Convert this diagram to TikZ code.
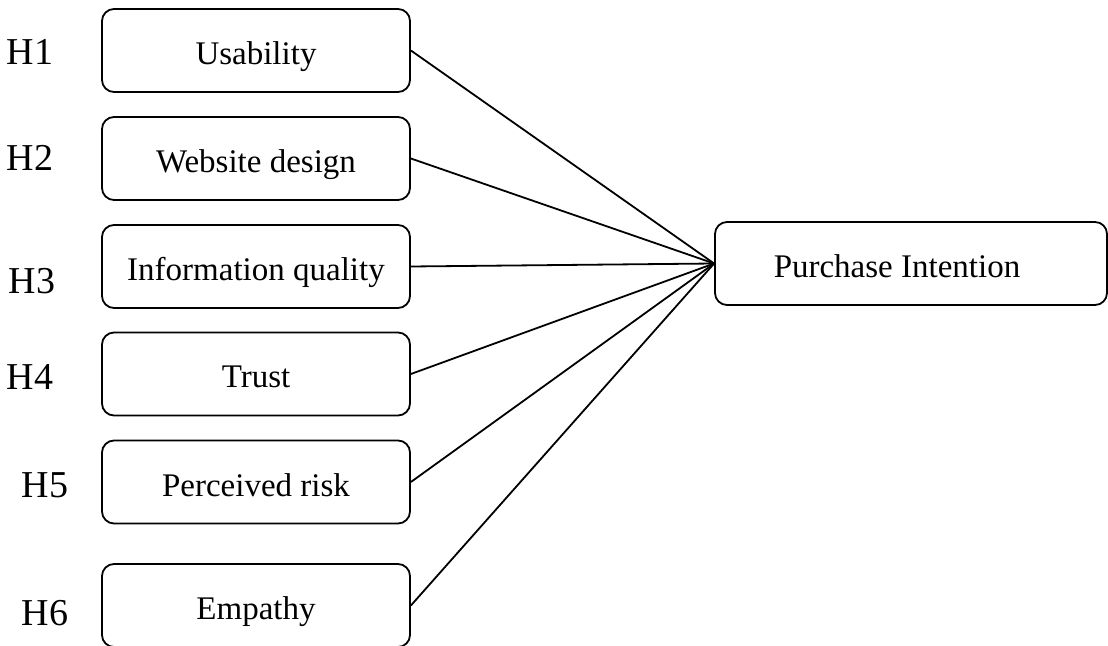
\documentclass[tikz,border=0pt]{standalone}
\usepackage{fontspec}
\setmainfont{Liberation Serif}
\usepackage{tikz}

\begin{document}
\begin{tikzpicture}[x=0.5pt, y=-0.5pt,
        factor/.style={draw, line width=0.9pt, rounded corners=6pt, minimum width=154pt, minimum height=41.5pt, inner sep=0pt, text height=14pt, text depth=0pt, font=\fontsize{16.5}{19}\selectfont},
        hyp/.style={inner sep=0pt, font=\fontsize{19}{22}\selectfont},
        link/.style={line width=0.9pt}]
        \useasboundingbox (0,0) rectangle (1108,646);
        % factors
        \node [factor] (usab) at (256,50.5) {Usability};
        \node [factor] (web) at (256,158.5) {Website design};
        \node [factor] (info) at (256,266.5) {Information quality};
        \node [factor] (trust) at (256,374) {Trust};
        \node [factor] (risk) at (256,482) {Perceived risk};
        \node [factor] (emp) at (256,605.5) {Empathy};
        \node [factor, minimum width=196pt] (pi) at (911,263.5) {\hspace{-14pt}Purchase Intention};
        % hypotheses
        \node [hyp] (h1) at (30,52) {H1};
        \node [hyp] (h2) at (30,158) {H2};
        \node [hyp] (h3) at (32,281) {H3};
        \node [hyp] (h4) at (30,377) {H4};
        \node [hyp] (h5) at (45,485) {H5};
        \node [hyp] (h6) at (45,613) {H6};
        % links
        \draw [link] (usab.east) -- (pi.west);
        \draw [link] (web.east) -- (pi.west);
        \draw [link] (info.east) -- (pi.west);
        \draw [link] (trust.east) -- (pi.west);
        \draw [link] (risk.east) -- (pi.west);
        \draw [link] (emp.east) -- (pi.west);
\end{tikzpicture}
\end{document}
